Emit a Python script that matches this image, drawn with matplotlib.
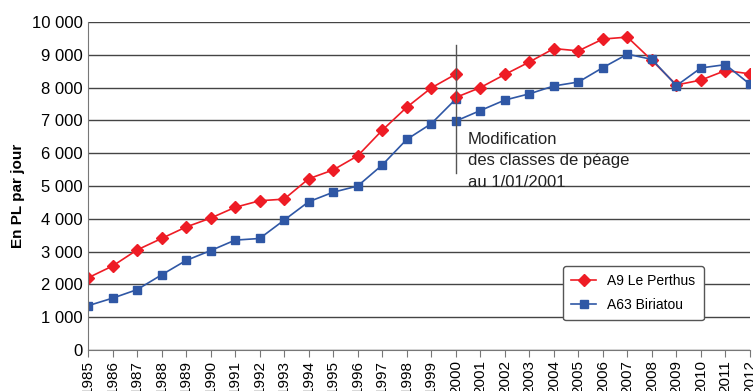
import numpy as np
import matplotlib
matplotlib.use("Agg")
import matplotlib.pyplot as plt
import matplotlib.ticker as mticker

plt.rcParams["font.family"] = ["Liberation Sans Narrow", "Liberation Sans", "DejaVu Sans"]

# A9 Le Perthus (old toll classes, 1985-2000)
years_old = list(range(1985, 2001))
a9_old = [2200, 2560, 3050, 3400, 3750, 4020, 4350, 4550, 4600, 5220,
          5490, 5920, 6700, 7400, 7990, 8410]
a63_old = [1350, 1580, 1840, 2290, 2730, 3030, 3350, 3400, 3960, 4520,
           4810, 5000, 5640, 6420, 6900, 7650]

# new toll classes, 2000-2012
years_new = list(range(2000, 2013))
a9_new = [7700, 8000, 8400, 8780, 9190, 9120, 9480, 9540, 8830, 8080,
          8230, 8520, 8420]
a63_new = [6980, 7300, 7620, 7810, 8050, 8170, 8610, 9020, 8860, 8060,
           8600, 8700, 8100]

RED = "#ee1c25"
BLUE = "#2f57a5"

fig = plt.figure(figsize=(7.53, 3.91), dpi=100)
ax = fig.add_axes([88/753, 1 - 350/391, (750 - 88)/753, (350 - 22)/391])

ax.plot(years_old, a9_old, color=RED, marker="D", ms=6, lw=1.2, label="A9 Le Perthus")
ax.plot(years_old, a63_old, color=BLUE, marker="s", ms=6, lw=1.2, label="A63 Biriatou")
ax.plot(years_new, a9_new, color=RED, marker="D", ms=6, lw=1.2)
ax.plot(years_new, a63_new, color=BLUE, marker="s", ms=6, lw=1.2)

ax.plot([2000, 2000], [5400, 9300], color="#555555", lw=1)
ax.text(2000.5, 6650, "Modification\ndes classes de péage\nau 1/01/2001",
        ha="left", va="top", fontsize=12, linespacing=1.55, color="#222222")

ax.set_xlim(1985, 2012)
ax.set_ylim(0, 10000)
ax.set_xticks(range(1985, 2013))
ax.set_yticks(range(0, 10001, 1000))
ax.yaxis.set_major_formatter(mticker.FuncFormatter(lambda v, p: "{:,}".format(int(v)).replace(",", " ")))
ax.tick_params(axis="x", rotation=90, labelsize=11, length=5, color="#777777", pad=2)
ax.tick_params(axis="y", labelsize=12, length=0, pad=4)
for lbl in ax.get_xticklabels():
    lbl.set_va("top")

ax.grid(axis="y", color="#444444", lw=1)
ax.set_axisbelow(True)
for s in ["top", "right"]:
    ax.spines[s].set_visible(False)
ax.spines["left"].set_color("#777777")
ax.spines["bottom"].set_color("#777777")

ax.set_ylabel("En PL par jour", fontsize=11, fontweight="bold")
ax.yaxis.set_label_coords(-0.095, 0.47)

leg = ax.legend(loc="upper left", bbox_to_anchor=((563 - 88)/662, 1 - (266 - 22)/328),
                borderaxespad=0, fontsize=10, frameon=True, fancybox=True,
                edgecolor="#555555", framealpha=1, handlelength=1.8,
                handletextpad=0.8, borderpad=0.6, labelspacing=0.7)
leg.get_frame().set_linewidth(1)

fig.savefig("out.png", dpi=100)
